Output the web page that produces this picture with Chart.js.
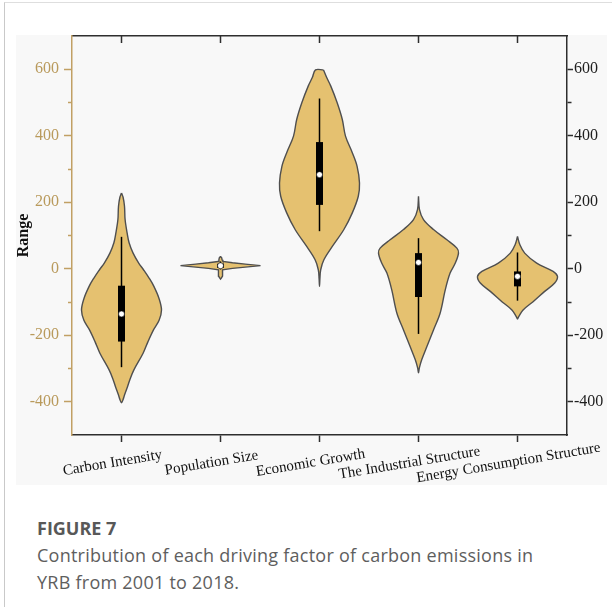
<!DOCTYPE html>
<html>
<head>
<meta charset="utf-8">
<script src="https://cdn.jsdelivr.net/npm/chart.js@4.4.1/dist/chart.umd.min.js"></script>
<style>
  html, body { margin: 0; padding: 0; background: #ffffff; }
  body { width: 612px; height: 607px; position: relative; overflow: hidden; }
  #frame { position: absolute; left: 4px; top: 2px; width: 700px; height: 700px;
           border-left: 1px solid #c9c9c9; border-top: 1px solid #dedede; }
  #panel { position: absolute; left: 16px; top: 35px; width: 591px; height: 450px; background: #f8f8f8; }
  #wrap { position: absolute; left: 0; top: 0; width: 612px; height: 490px; }
  #caption { position: absolute; left: 37px; top: 515px; font-family: "Open Sans", sans-serif; color: #5e5e5e; }
  #caption div { font-size: 18px; line-height: 27px; white-space: nowrap; letter-spacing: 0.25px; }
  #caption .fig { font-weight: bold; letter-spacing: 0; color: #585858; }
</style>
</head>
<body>
<div id="frame"></div>
<div id="panel"></div>
<div id="wrap"><canvas id="chart" width="612" height="490"></canvas></div>
<div id="caption">
  <div class="fig">FIGURE 7</div>
  <div>Contribution of each driving factor of carbon emissions in</div>
  <div>YRB from 2001 to 2018.</div>
</div>
<script>
// Driving factors along the x axis
const categories = ['Carbon Intensity', 'Population Size', 'Economic Growth',
                    'The Industrial Structure', 'Energy Consumption Structure'];

// Density outlines: value levels (top to bottom) and relative density (1 = widest)
const carbonLevels  = [228, 215, 188, 148, 108, 78, 47, 17, -3, -28, -53, -90, -124, -155, -184, -220, -254, -304, -330, -355, -380, -395, -403];
const carbonDensity = [0, 0.04, 0.075, 0.09, 0.14, 0.19, 0.29, 0.43, 0.55, 0.69, 0.81, 0.94, 1, 0.94, 0.8, 0.66, 0.54, 0.31, 0.22, 0.15, 0.075, 0.035, 0];

const populationLevels  = [37, 33, 27, 22, 18, 14, 9.5, 5, 1, -3, -7, -12, -17, -22, -27, -31];
const populationDensity = [0, 0.03, 0.04, 0.06, 0.3, 0.62, 1, 0.62, 0.3, 0.05, 0.04, 0.055, 0.06, 0.05, 0.025, 0];

const economicLevels  = [598, 575, 550, 500, 449, 399, 349, 308, 258, 218, 168, 118, 67, 27, -3, -30, -53];
const economicDensity = [0.1, 0.18, 0.28, 0.44, 0.57, 0.65, 0.82, 0.94, 1, 0.97, 0.82, 0.61, 0.32, 0.11, 0.03, 0.01, 0];

const industrialLevels  = [218, 178, 148, 118, 87, 62, 47, 17, -13, -63, -134, -184, -234, -274, -299, -313];
const industrialDensity = [0, 0.025, 0.125, 0.375, 0.71, 0.96, 1, 0.92, 0.79, 0.67, 0.54, 0.375, 0.21, 0.08, 0.02, 0];

const energyLevels  = [97, 72, 47, 17, -8, -23, -43, -68, -99, -124, -144, -151];
const energyDensity = [0, 0.06, 0.18, 0.48, 0.89, 1, 0.93, 0.68, 0.39, 0.14, 0.03, 0];

// Box plot summaries per factor
const whiskerLow  = [-296, -2, 113, -196, -96];
const quartile1   = [-219, 3, 192, -85, -53];
const medians     = [-136, 9, 283, 19, -23];
const quartile3   = [-51, 15, 381, 47, -8];
const whiskerHigh = [96, 22, 512, 92, 49];

// Value axis ticks
const yMajorTicks = [-400, -200, 0, 200, 400, 600];
const yMinorTicks = [-300, -100, 100, 300, 500];

const VIOLIN_HALF = 0.404;      // widest half-width, in category units
const VIOLIN_FILL = '#e5c170';
const VIOLIN_EDGE = '#4f4f4f';
const GOLD_AXIS = '#c1a064';
const GOLD_TEXT = '#b99a5c';
const DARK = '#2e2e2e';
const SERIF = '"Liberation Serif", "Times New Roman", serif';

const profiles = [
  [carbonLevels, carbonDensity],
  [populationLevels, populationDensity],
  [economicLevels, economicDensity],
  [industrialLevels, industrialDensity],
  [energyLevels, energyDensity]
];

// Closed outline: right side downwards, then left side back up
function outline(i, levels, density) {
  const pts = levels.map((v, k) => ({ x: i + density[k] * VIOLIN_HALF, y: v }));
  const n = levels.length;
  const start = density[n - 1] === 0 ? n - 2 : n - 1;
  for (let k = start; k >= 0; k--) pts.push({ x: i - density[k] * VIOLIN_HALF, y: levels[k] });
  if (density[0] !== 0) pts.push({ x: pts[0].x, y: pts[0].y });
  return pts;
}

const datasets = [];
profiles.forEach(([levels, density], i) => {
  datasets.push({
    data: outline(i, levels, density),
    borderColor: VIOLIN_EDGE,
    borderWidth: 1.4,
    backgroundColor: VIOLIN_FILL,
    fill: 'shape',
    tension: i === 1 ? 0 : 0.35,
    pointRadius: 0,
    order: 3
  });
  datasets.push({
    data: [{ x: i, y: whiskerLow[i] }, { x: i, y: whiskerHigh[i] }],
    borderColor: '#000000',
    borderWidth: 1.5,
    pointRadius: 0,
    fill: false,
    order: 2
  });
  datasets.push({
    data: [{ x: i, y: quartile1[i] }, { x: i, y: quartile3[i] }],
    borderColor: '#000000',
    borderWidth: 7,
    borderCapStyle: 'butt',
    pointRadius: 0,
    fill: false,
    order: 1
  });
});
datasets.push({
  data: medians.map((m, i) => ({ x: i, y: m })),
  showLine: false,
  pointRadius: 3,
  pointBorderWidth: 0.6,
  pointBackgroundColor: '#ffffff',
  pointBorderColor: '#000000',
  order: 0
});

const categoryTicks = s => { s.ticks = categories.map((c, i) => ({ value: i })); };
const valueTicks = s => {
  s.ticks = yMajorTicks.concat(yMinorTicks).sort((a, b) => a - b).map(v => ({ value: v }));
};
const isMajor = ctx => ctx.tick && yMajorTicks.includes(ctx.tick.value);

// Factor names, slanted under the bottom axis
const slantedLabels = {
  id: 'slantedLabels',
  afterDraw(chart) {
    const { ctx, chartArea } = chart;
    const x = chart.scales.x;
    ctx.save();
    ctx.font = '15px ' + SERIF;
    ctx.fillStyle = '#111111';
    ctx.textAlign = 'center';
    ctx.textBaseline = 'middle';
    categories.forEach((label, i) => {
      ctx.save();
      ctx.translate(x.getPixelForValue(i) - 9, chartArea.bottom + 28);
      ctx.rotate(-9.5 * Math.PI / 180);
      ctx.fillText(label, 0, 0);
      ctx.restore();
    });
    ctx.restore();
  }
};

new Chart(document.getElementById('chart'), {
  type: 'line',
  data: { datasets },
  plugins: [slantedLabels],
  options: {
    responsive: false,
    animation: false,
    devicePixelRatio: 1,
    layout: { padding: { left: 14, top: 35, right: 0, bottom: 0 } },
    plugins: { legend: { display: false }, tooltip: { enabled: false } },
    scales: {
      x: {
        type: 'linear', position: 'bottom', min: -0.5, max: 4.5,
        afterBuildTicks: categoryTicks,
        ticks: { display: false },
        grid: { drawOnChartArea: false, tickLength: 7, tickColor: DARK, tickWidth: 1.5 },
        border: { color: DARK, width: 1.5 },
        afterFit: s => { s.height = 55; s.paddingLeft = 0; s.paddingRight = 0; }
      },
      xTop: {
        type: 'linear', position: 'top', min: -0.5, max: 4.5,
        afterBuildTicks: categoryTicks,
        ticks: { display: false },
        grid: { drawOnChartArea: false, tickLength: -7, tickColor: DARK, tickWidth: 1.5 },
        border: { color: DARK, width: 1.5 },
        afterFit: s => { s.height = 1; s.paddingLeft = 0; s.paddingRight = 0; }
      },
      y: {
        type: 'linear', position: 'left', min: -500, max: 700,
        afterBuildTicks: valueTicks,
        ticks: {
          color: GOLD_TEXT, padding: 5,
          font: { family: SERIF, size: 16 },
          callback: v => yMajorTicks.includes(v) ? String(v) : ''
        },
        grid: {
          drawOnChartArea: false, tickLength: 8, tickColor: GOLD_AXIS, tickWidth: 1.5,
          tickBorderDash: ctx => isMajor(ctx) ? [] : [0, 4, 20]
        },
        border: { color: GOLD_AXIS, width: 1.5 },
        title: {
          display: true, text: 'Range', color: '#111111', padding: { top: 2, bottom: 0 },
          font: { family: SERIF, size: 16, weight: 'bold', lineHeight: 1 }
        },
        afterFit: s => { s.width = 58; s.paddingTop = 0; s.paddingBottom = 0; }
      },
      yRight: {
        type: 'linear', position: 'right', min: -500, max: 700,
        afterBuildTicks: valueTicks,
        ticks: {
          color: '#1e1e1e', padding: 1,
          font: { family: SERIF, size: 16 },
          callback: v => yMajorTicks.includes(v) ? String(v) : ''
        },
        grid: {
          drawOnChartArea: false, tickLength: 6, tickColor: DARK, tickWidth: 1.5,
          tickBorderDash: ctx => isMajor(ctx) ? [] : [4, 20]
        },
        border: { color: DARK, width: 1.5 },
        afterFit: s => { s.width = 45; s.paddingTop = 0; s.paddingBottom = 0; }
      }
    }
  }
});
</script>
</body>
</html>
